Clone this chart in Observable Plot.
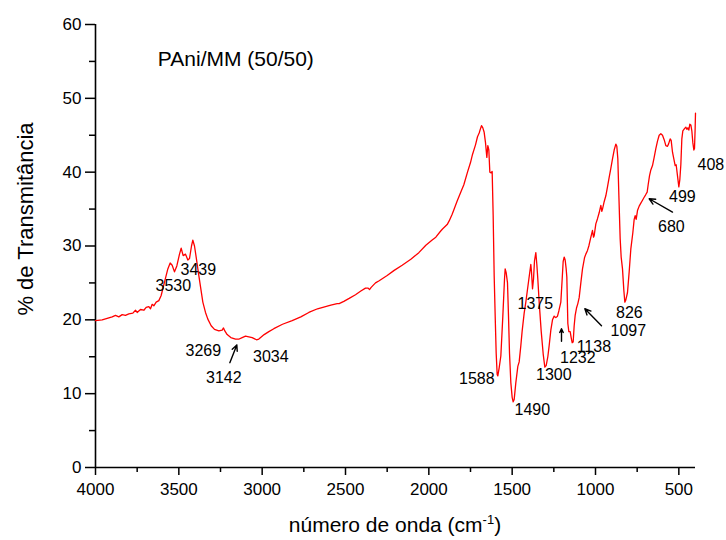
<!DOCTYPE html>
<html>
<head>
<meta charset="utf-8">
<script src="https://cdn.jsdelivr.net/npm/d3@7"></script>
<script src="https://cdn.jsdelivr.net/npm/@observablehq/plot@0.6"></script>
<style>
  html, body { margin: 0; padding: 0; background: #fff; }
  #chart { width: 726px; height: 540px; }
</style>
</head>
<body>
<div id="chart"></div>
<script>
// ---- Spectrum ----
const wavenumber = [
  4000,3960,3930,3900,3880,3860,3840,3820,3800,3776,3760,3750,3730,3710,3696,3680,3670,3660,3650,3636,3620,3606,
  3586,3566,3552,3540,3526,3512,3496,3486,3474,3460,3446,3436,3424,3416,3406,3396,3380,3356,3340,3326,3306,3286,
  3260,3240,3232,3224,3210,3188,3160,3138,3120,3100,3080,3060,3034,3020,2988,2960,2930,2878,2820,2768,2720,2668,
  2620,2588,2550,2538,2510,2478,2440,2408,2380,2364,2356,2346,2320,2298,2250,2208,2160,2108,2060,2018,1980,1958,
  1930,1918,1890,1878,1860,1848,1830,1808,1790,1768,1750,1738,1720,1708,1698,1690,1684,1676,1668,1660,1652,1646,
  1640,1634,1626,1620,1614,1608,1602,1596,1590,1586,1578,1568,1556,1546,1542,1536,1528,1522,1516,1508,1500,1494,
  1488,1478,1466,1458,1448,1440,1428,1418,1400,1388,1384,1378,1372,1366,1358,1352,1346,1338,1326,1314,1304,1296,
  1286,1278,1268,1258,1248,1238,1228,1220,1208,1200,1194,1188,1182,1176,1172,1166,1160,1152,1146,1140,1134,1128,
  1122,1114,1106,1098,1088,1078,1066,1058,1048,1040,1030,1018,1012,1008,998,988,978,968,962,958,948,938,928,918,
  908,898,888,878,872,866,860,852,846,838,830,824,818,808,798,788,776,768,762,756,748,738,728,718,708,700,690,684,
  676,668,658,648,638,628,618,608,598,588,578,568,562,552,546,538,530,522,516,508,500,494,488,482,476,466,458,452,
  446,440,434,428,422,416,410,406,402,400
];
const transmittance = [
  19.9,20.0,20.2,20.4,20.6,20.4,20.7,20.6,20.8,20.9,21.3,21.0,21.4,21.3,21.7,21.8,21.5,22.1,21.9,22.4,22.6,23.3,
  25.1,26.9,27.7,27.4,26.5,27.3,28.9,29.7,28.7,28.9,28.1,28.3,30.0,30.8,30.0,28.5,26.0,22.4,21.0,20.1,19.2,18.7,
  18.5,18.6,18.9,18.5,18.0,17.6,17.4,17.4,17.6,17.8,17.7,17.6,17.3,17.4,18.0,18.4,18.8,19.4,19.9,20.4,21.0,21.5,
  21.8,22.0,22.2,22.2,22.5,22.9,23.4,23.9,24.3,24.3,24.1,24.4,25.0,25.3,26.0,26.7,27.4,28.2,29.1,30.1,30.8,31.2,
  32.0,32.3,32.9,33.4,34.3,35.0,36.1,37.3,38.3,40.0,41.3,42.4,43.7,44.8,45.3,45.9,46.3,46.0,45.4,44.0,42.0,43.6,
  43.0,40.0,39.9,40.1,34.1,26.0,20.6,15.5,12.6,12.4,13.5,15.1,20.5,25.5,26.9,26.4,25.0,20.5,15.5,11.5,9.5,8.9,
  9.2,11.5,13.7,14.3,16.5,18.5,20.9,22.4,25.5,27.5,26.5,24.2,25.5,28.0,29.1,27.5,25.5,22.4,18.5,15.4,13.6,13.8,
  15.0,16.5,18.6,20.0,20.5,20.3,20.5,21.2,22.4,25.5,27.9,28.5,28.1,26.9,25.8,19.5,18.4,18.4,17.6,16.9,17.0,19.2,
  20.6,21.6,22.2,23.0,25.0,26.9,28.4,28.9,29.4,30.0,31.0,32.1,31.2,31.4,33.0,33.7,34.5,35.5,34.7,35.0,36.0,36.8,38.0,39.3,
  40.5,41.8,43.0,43.8,43.5,41.8,37.0,31.0,28.5,26.9,24.0,22.4,22.7,23.7,26.5,29.6,31.8,33.6,34.1,33.6,34.8,35.4,35.8,36.2,36.6,36.9,37.3,38.3,
  39.5,40.3,40.9,42.0,43.2,44.2,45.0,45.2,45.0,44.4,43.6,43.5,43.8,44.5,44.3,42.7,41.8,40.9,41.0,39.5,38.0,39.0,41.0,44.5,45.6,45.9,46.1,45.8,
  46.0,45.7,46.5,46.4,45.6,44.0,43.0,43.2,46.0,48.0
];

// ---- Peak annotations ----
const peakLabels = ["3439","3530","3269","3142","3034","1588","1490","1375","1300","1232","1138","1097","826","680","499","408"];
const peakLabelX = [3383,3533,3353,3230,2948,1712,1379,1361,1250,1106,1010,803,797,545,479,308];
const peakLabelY = [26.8,24.6,15.8,12.2,15.0,12.0,7.8,22.2,12.5,14.9,16.3,18.5,21.0,32.6,36.7,41.0];

// ---- Arrows (tail -> head) ----
const arrowX1 = [3194,1204,964,538];
const arrowY1 = [14.2,17.1,19.2,34.6];
const arrowX2 = [3152,1204,1064,678];
const arrowY2 = [16.6,18.8,21.5,36.4];

// ---- Axis ticks ----
const xMajorTicks = [4000,3500,3000,2500,2000,1500,1000,500];
const xMinorTicks = [3750,3250,2750,2250,1750,1250,750];
const yMajorTicks = [0,10,20,30,40,50,60];
const yMinorTicks = [5,15,25,35,45,55];

const titleText = "PAni/MM (50/50)";
const titleX = [3626];
const titleY = [55.3];

const spectrum = wavenumber.map((w, i) => ({w, t: transmittance[i]}));
const peaks = peakLabels.map((s, i) => ({s, x: peakLabelX[i], y: peakLabelY[i]}));
const arrows = arrowX1.map((x, i) => ({x1: x, y1: arrowY1[i], x2: arrowX2[i], y2: arrowY2[i]}));

const fontFamily = "'Liberation Sans', Arial, Helvetica, sans-serif";

const chart = Plot.plot({
  width: 726,
  height: 540,
  marginLeft: 95,
  marginRight: 31,
  marginTop: 24,
  marginBottom: 73,
  style: {fontFamily, background: "#fff", color: "#000", overflow: "visible"},
  x: {domain: [4000, 400], label: null},
  y: {domain: [0, 60], label: null},
  marks: [
    Plot.axisX({ticks: xMajorTicks, tickSize: 8, tickPadding: 7, tickFormat: "d", fontSize: 17, label: null, strokeWidth: 1.5}),
    Plot.axisX({ticks: xMinorTicks, tickSize: 5, tickFormat: () => "", label: null, strokeWidth: 1.5}),
    Plot.axisY({ticks: yMajorTicks, tickSize: 10, tickPadding: 4, tickFormat: "d", fontSize: 17, label: null, strokeWidth: 1.5}),
    Plot.axisY({ticks: yMinorTicks, tickSize: 6, tickFormat: () => "", label: null, strokeWidth: 1.5}),
    Plot.ruleX([4000], {stroke: "#000", strokeWidth: 1.6}),
    Plot.ruleY([0], {stroke: "#000", strokeWidth: 1.6}),
    Plot.line(spectrum, {x: "w", y: "t", stroke: "#ff0000", strokeWidth: 1.3, curve: "linear"}),
    Plot.text(peaks, {x: "x", y: "y", text: "s", fontSize: 16, fill: "#000", textAnchor: "middle", clip: false}),
    Plot.arrow(arrows, {x1: "x1", y1: "y1", x2: "x2", y2: "y2", stroke: "#000", strokeWidth: 1.4, headLength: 7, headAngle: 50}),
    Plot.text(titleX, {x: d => d, y: (d, i) => titleY[i], text: () => titleText, fontSize: 21, textAnchor: "start", fill: "#000"})
  ]
});

document.getElementById("chart").appendChild(chart);

// axis titles
const svg = d3.select(chart);
const xl = svg.append("text")
  .attr("x", 395).attr("y", 532)
  .attr("text-anchor", "middle")
  .attr("font-family", fontFamily)
  .attr("font-size", 21)
  .attr("fill", "#000");
xl.append("tspan").text("número de onda (cm");
xl.append("tspan").attr("dy", -8).attr("font-size", 13).text("-1");
xl.append("tspan").attr("dy", 8).text(")");

svg.append("text")
  .attr("transform", "translate(32.5,219) rotate(-90)")
  .attr("text-anchor", "middle")
  .attr("font-family", fontFamily)
  .attr("font-size", 22)
  .attr("fill", "#000")
  .text("% de Transmitância");
</script>
</body>
</html>
